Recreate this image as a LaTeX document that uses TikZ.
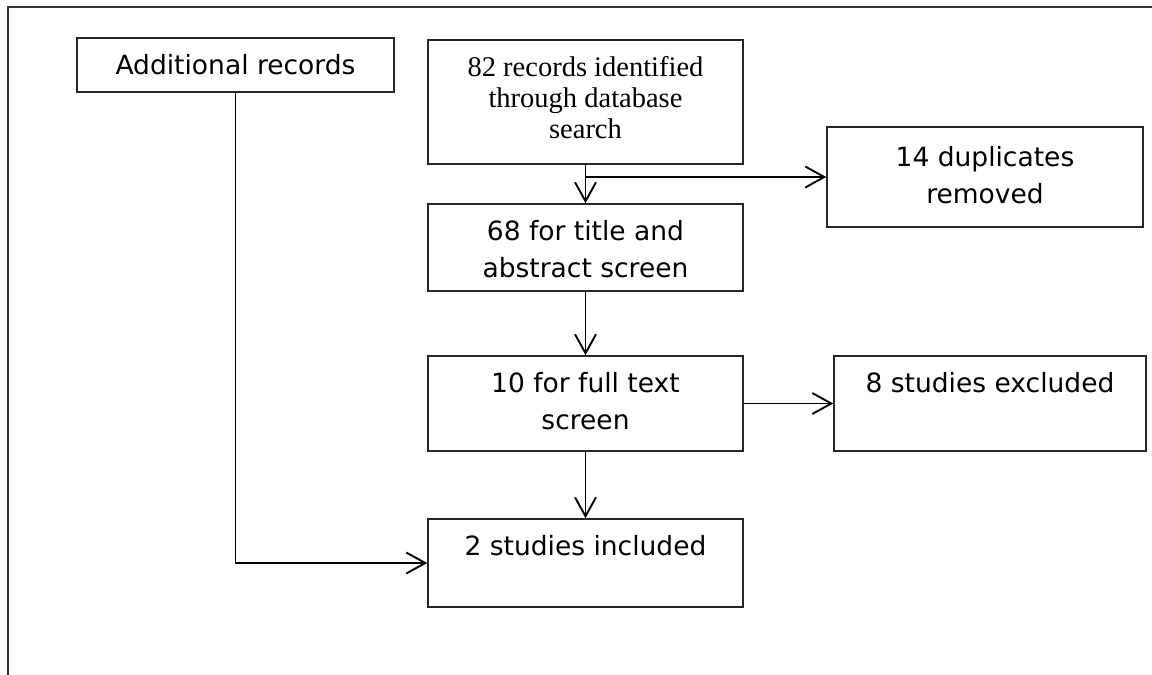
\documentclass[tikz,border=0pt]{standalone}
\usepackage{fontspec}
\usetikzlibrary{arrows.meta}
\newfontfamily\sansf{DejaVu Sans}
\newfontfamily\seriff{Liberation Serif}
\tikzset{
  box/.style={draw=black!85, line width=1.5pt, inner sep=0pt, rectangle},
  lab/.style={anchor=north, inner sep=0pt, align=center, text=black},
  sanslab/.style={lab, yshift=-16.5pt, font=\sansf\fontsize{26.5}{37}\selectfont},
  seriflab/.style={lab, yshift=-17pt, font=\seriff\fontsize{28.5}{31}\selectfont},
  arr/.style={line width=1.9pt, black, -{Straight Barb[length=19pt,width=21pt,line width=1.9pt]}},
  frame/.style={line width=2.2pt, black!80}
}
\begin{document}
\begin{tikzpicture}[x=1pt,y=-1pt]
\useasboundingbox (0,0) rectangle (1152,675);
% outer frame (top and left only)
\draw[frame] (8,675) -- (8,7) -- (1152,7);

\node[box, minimum width=317pt, minimum height=54pt,
  label={[sanslab]north:Additional records}] (add) at (235.5,65) {};
\node[box, minimum width=315pt, minimum height=124pt,
  label={[seriflab]north:82 records identified\\through database\\search}] (rec) at (585.5,102) {};
\node[box, minimum width=316pt, minimum height=100pt,
  label={[sanslab, yshift=-3pt]north:14 duplicates\\removed}] (dup) at (985,177) {};
\node[box, minimum width=315pt, minimum height=87pt,
  label={[sanslab]north:68 for title and\\abstract screen}] (t68) at (585.5,247.5) {};
\node[box, minimum width=315pt, minimum height=95pt,
  label={[sanslab]north:10 for full text\\screen}] (t10) at (585.5,403.5) {};
\node[box, minimum width=312pt, minimum height=95pt,
  label={[sanslab]north:8 studies excluded}] (excl) at (990,403.5) {};
\node[box, minimum width=315pt, minimum height=88pt,
  label={[sanslab]north:2 studies included}] (inc) at (585.5,563) {};

\draw[arr] (rec.south) -- (t68.north);
\draw[arr] (rec.south |- dup.west) -- (dup.west);
\draw[arr] (t68.south) -- (t10.north);
\draw[arr] (t10.east) -- (excl.west);
\draw[arr] (t10.south) -- (inc.north);
\draw[arr] (add.south) |- (inc.west);
\end{tikzpicture}
\end{document}
